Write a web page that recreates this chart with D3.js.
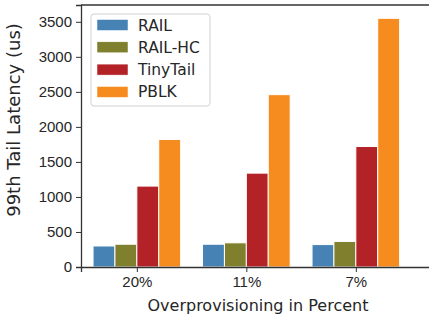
<!DOCTYPE html>
<html>
<head>
<meta charset="utf-8">
<script src="https://cdn.jsdelivr.net/npm/d3@7"></script>
<style>
  body { margin: 0; background: #fff; }
  svg { display: block; font-family: "DejaVu Sans", sans-serif; }
  .axis text { fill: #262626; font-size: 15px; }
  .axis path, .axis line { stroke: #333; }
</style>
</head>
<body>
<div id="chart"></div>
<script>
// Data
const categories = ["20%", "11%", "7%"];
const seriesNames = ["RAIL", "RAIL-HC", "TinyTail", "PBLK"];
const seriesColors = ["#4682b4", "#7f7f2e", "#b22226", "#f68b1f"];
const railValues = [300, 325, 320];
const railHcValues = [325, 345, 365];
const tinyTailValues = [1155, 1340, 1720];
const pblkValues = [1820, 2460, 3550];
const yTicks = [0, 500, 1000, 1500, 2000, 2500, 3000, 3500];

const series = [railValues, railHcValues, tinyTailValues, pblkValues];

const width = 429, height = 320;
const margin = {top: 5, left: 81, bottom: 267, right: 450};

const svg = d3.select("#chart").append("svg")
    .attr("width", width)
    .attr("height", height);

// group index -> pixel, plot is cropped on the right like the reference
const x = d3.scaleLinear()
    .domain([-0.51, 2.86])
    .range([margin.left, margin.right]);

const y = d3.scaleLinear()
    .domain([0, 3740])
    .range([margin.bottom, margin.top]);

const barW = 0.2;

// bars
series.forEach(function(vals, s) {
    svg.append("g")
        .selectAll("rect")
        .data(vals)
        .join("rect")
        .attr("x", (d, i) => x(i + (s - 1.5) * barW - barW / 2))
        .attr("y", d => y(d))
        .attr("width", x(barW) - x(0))
        .attr("height", d => y(0) - y(d))
        .attr("fill", seriesColors[s])
        .attr("stroke", "#fff")
        .attr("stroke-width", 1);
});

// axes
svg.append("g")
    .attr("class", "axis")
    .attr("transform", "translate(0," + margin.bottom + ")")
    .call(d3.axisBottom(x).tickValues([0, 1, 2]).tickFormat(i => categories[i]).tickSizeOuter(0).tickSize(5).tickPadding(4));

svg.append("g")
    .attr("class", "axis")
    .attr("transform", "translate(" + margin.left + ",0)")
    .call(d3.axisLeft(y).tickValues(yTicks).tickFormat(d3.format("d")).tickSizeOuter(0).tickSize(5).tickPadding(4));

svg.selectAll(".axis .domain").attr("stroke-width", 1.3);

// top spine
svg.append("line")
    .attr("x1", margin.left).attr("x2", width)
    .attr("y1", margin.top).attr("y2", margin.top)
    .attr("stroke", "#333").attr("stroke-width", 1.3);

// axis labels
svg.append("text")
    .attr("x", 258)
    .attr("y", 311)
    .attr("text-anchor", "middle")
    .attr("fill", "#262626")
    .style("font-size", "16px")
    .text("Overprovisioning in Percent");

svg.append("text")
    .attr("transform", "translate(20,120) rotate(-90)")
    .attr("text-anchor", "middle")
    .attr("fill", "#262626")
    .style("font-size", "18px")
    .text("99th Tail Latency (us)");

// legend
const legend = svg.append("g").attr("transform", "translate(91,14)");
legend.append("rect")
    .attr("width", 119).attr("height", 92)
    .attr("rx", 3)
    .attr("fill", "#fff").attr("fill-opacity", 0.8)
    .attr("stroke", "#d0d0d0");

seriesNames.forEach(function(name, i) {
    const row = legend.append("g").attr("transform", "translate(0," + (11 + i * 22.3) + ")");
    row.append("rect")
        .attr("x", 6).attr("y", -5.5)
        .attr("width", 31).attr("height", 11)
        .attr("fill", seriesColors[i])
        .attr("stroke", "#fff").attr("stroke-width", 0.5);
    row.append("text")
        .attr("x", 47).attr("y", 5.5)
        .attr("fill", "#262626")
        .style("font-size", "15.5px")
        .text(name);
});
</script>
</body>
</html>
